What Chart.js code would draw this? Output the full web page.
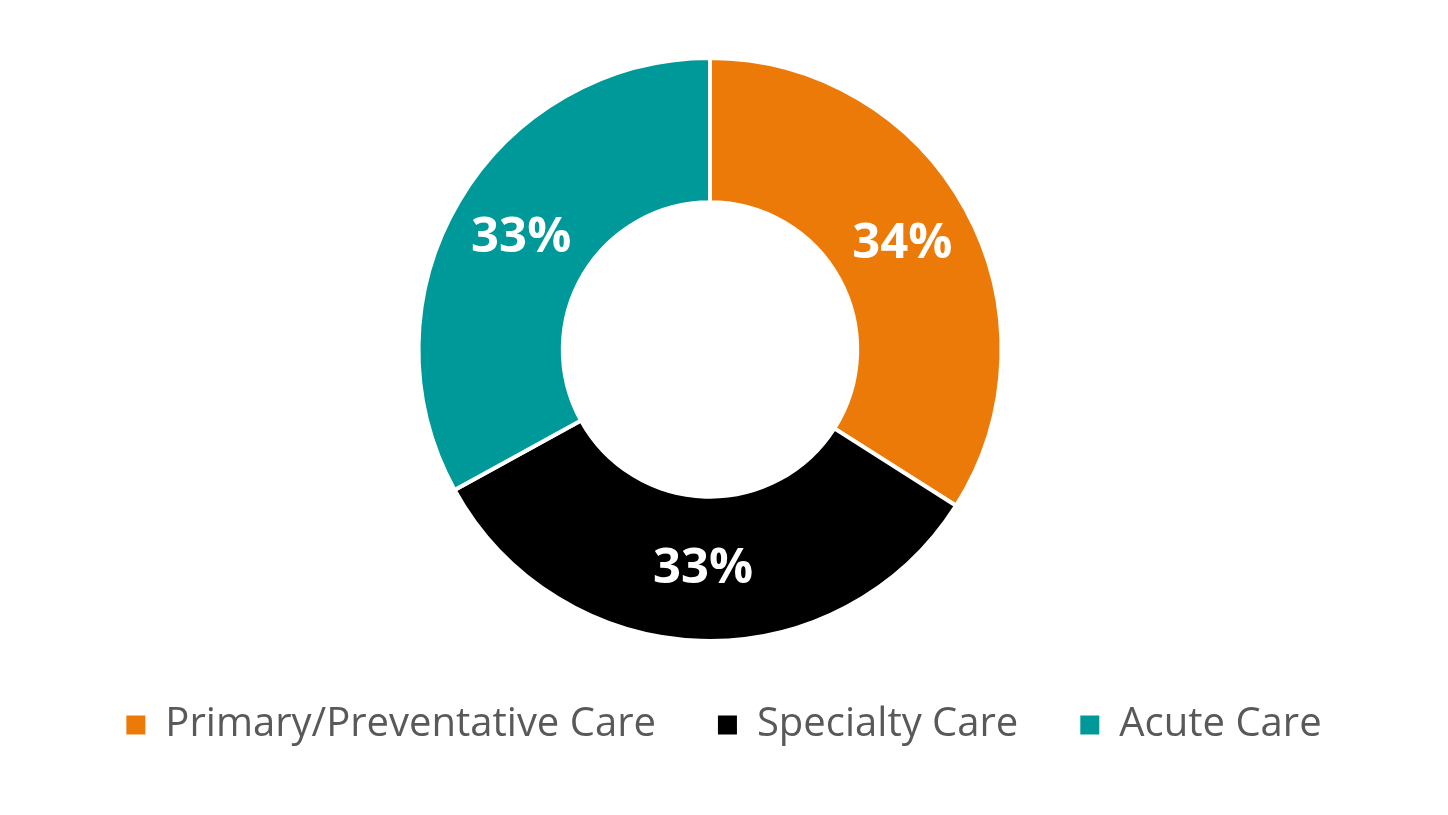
<!DOCTYPE html>
<html>
<head>
<meta charset="utf-8">
<script src="https://cdn.jsdelivr.net/npm/chart.js@4/dist/chart.umd.min.js"></script>
<style>
  html, body { margin: 0; padding: 0; background: #fff; }
  #wrap { width: 1448px; height: 815px; position: relative; }
</style>
</head>
<body>
<div id="wrap"><canvas id="careChart"></canvas></div>
<script>
// Chart data
const categories = ['Primary/Preventative Care', 'Specialty Care', 'Acute Care'];
const shares = [34, 33, 33];
const sliceColors = ['#EC7A08', '#000000', '#009999'];

// Draw "34%" style labels in the middle of each ring segment
const sliceLabels = {
    id: 'sliceLabels',
    afterDatasetsDraw(chart) {
        const ctx = chart.ctx;
        const meta = chart.getDatasetMeta(0);
        ctx.save();
        ctx.fillStyle = '#ffffff';
        ctx.font = 'bold 49px "Open Sans"';
        ctx.textAlign = 'center';
        ctx.textBaseline = 'middle';
        meta.data.forEach((arc, i) => {
            const pos = arc.tooltipPosition();
            ctx.fillText(shares[i] + '%', pos.x, pos.y);
        });
        ctx.restore();
    }
};

const ctx = document.getElementById('careChart').getContext('2d');
const careChart = new Chart(ctx, {
    type: 'doughnut',
    data: {
        labels: categories,
        datasets: [{
            data: shares,
            backgroundColor: sliceColors,
            borderColor: '#ffffff',
            borderWidth: 4,
            cutout: '50.5%'
        }]
    },
    options: {
        responsive: true,
        maintainAspectRatio: false,
        animation: false,
        layout: { padding: { top: 56, right: 0, bottom: 60, left: 0 } },
        plugins: {
            tooltip: { enabled: false },
            // empty title on the right just nudges the ring a bit left of the legend centre
            title: {
                display: true,
                position: 'right',
                text: '',
                font: { size: 8, lineHeight: 1 },
                padding: 10
            },
            legend: {
                position: 'bottom',
                labels: {
                    boxWidth: 19,
                    boxHeight: 19,
                    padding: 62,
                    color: '#595959',
                    font: { family: 'Open Sans', size: 40 },
                    // plain filled squares, no white outline
                    generateLabels(chart) {
                        return categories.map((name, i) => ({
                            text: name,
                            fillStyle: sliceColors[i],
                            strokeStyle: sliceColors[i],
                            lineWidth: 0,
                            fontColor: '#595959',
                            hidden: false,
                            index: i
                        }));
                    }
                }
            }
        }
    },
    plugins: [sliceLabels]
});
</script>
</body>
</html>
